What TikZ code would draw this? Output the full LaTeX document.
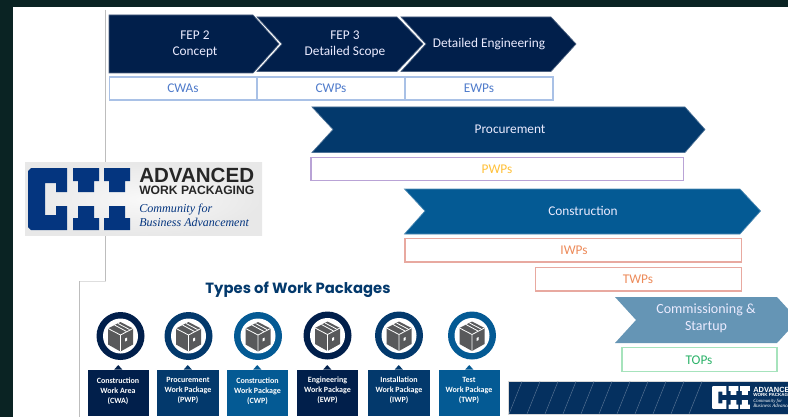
\documentclass[tikz,border=0pt]{standalone}
\usepackage{fontspec}
\setmainfont{Carlito}
\newfontfamily\titlefont{Poppins}
\newfontfamily\logofont{Liberation Sans}
\newfontfamily\handfont{Liberation Serif}
\definecolor{pagedark}{HTML}{0A2323}
\definecolor{navy}{HTML}{011F4B}
\definecolor{midblue}{HTML}{03396C}
\definecolor{seablue}{HTML}{045A94}
\definecolor{paleblue}{HTML}{6595B5}
\definecolor{footblue}{HTML}{05305F}
\definecolor{ciiblue}{HTML}{04357F}
\definecolor{guide}{HTML}{BDBDBD}
\definecolor{cubegray}{HTML}{58595B}
\definecolor{slotblue}{HTML}{A9C1E6}
\definecolor{textblue}{HTML}{4F7BCB}
\definecolor{slotpurple}{HTML}{B9A3D6}
\definecolor{textyellow}{HTML}{FFC13A}
\definecolor{slotred}{HTML}{E8A9A0}
\definecolor{textorange}{HTML}{ED8B5A}
\definecolor{slotgreen}{HTML}{A6E3BC}
\definecolor{textgreen}{HTML}{2DB36A}
\tikzset{
  x=0.75pt,y=-0.75pt,
  band/.style={line width=0.5pt,draw=#1!70!white,fill=#1},
  bandtext/.style={text=white!92!blue,font=\fontsize{10}{12}\selectfont,align=center,inner sep=0pt},
  slot/.style={line width=0.85pt,draw=#1,fill=white},
  slottext/.style={font=\fontsize{10}{12}\selectfont,inner sep=0pt},
  pkgtext/.style={text=white,font=\bfseries\fontsize{6}{7.5}\selectfont,align=center,inner sep=0pt},
  pics/pkgicon/.style={code={
    \fill[#1] (0,0) circle (24);
    \fill[white] (0,0) circle (17.5);
    \fill[cubegray] (0,-14)--(12.5,-7.5)--(12.5,8.5)--(0,15.5)--(-12.5,8.5)--(-12.5,-7.5)--cycle;
    \draw[white,line width=0.6pt] (-12.5,-7.5)--(0,-1)--(12.5,-7.5) (0,-1)--(0,15.5);
    \draw[white,line width=0.6pt] (-6,-11)--(6,-4.5) (-2.5,-12.5)--(9,-6.5);
    \fill[white] (4.5,2.5)--(6.5,1.5)--(6.5,4.5)--(4.5,5.5)--cycle;
  }},
  pics/ciimark/.style={code={
    \fill[#1] (3,0)--(39,0)--(39,24)--(28,24)--(28,15)--(17,15)--(17,47)--(28,47)--(28,38)--(39,38)--(39,62)--(3,62)--(0,59)--(0,3)--cycle;
    \foreach \ix in {45,76}{
      \fill[#1] (\ix,0)--++(26,0)--++(0,13)--++(-5,0)--++(0,11)--++(-16,0)--++(0,-11)--++(-5,0)--cycle;
      \fill[#1] (\ix,62)--++(26,0)--++(0,-12)--++(-5,0)--++(0,-12)--++(-16,0)--++(0,12)--++(-5,0)--cycle;
    }
  }},
}
\begin{document}
\begin{tikzpicture}
\useasboundingbox (0,0) rectangle (788,417);
% page
\fill[pagedark] (0,0) rectangle (788,417);
\fill[white] (13,7) rectangle (788,417);
% guide lines
\draw[guide,line width=0.75pt] (105.5,10)--(105.5,281);
\draw[guide!50!white,line width=0.5pt] (105.5,281)--(79.5,281);
\draw[guide,line width=0.75pt] (79.5,281)--(79.5,417);
% logo
\shade[inner color=white!95!gray,outer color=white!82!gray] (25,163) rectangle (262,235);
\pic at (28,168) {ciimark=ciiblue};
\node[anchor=west,inner sep=0pt,font=\logofont\bfseries\fontsize{15.4}{16}\selectfont,text=black!85] (logoa) at (139,175) {ADVANCED};
\node[anchor=west,inner sep=0pt,font=\logofont\bfseries\fontsize{9.1}{10}\selectfont,text=black!85] (logob) at (139,190.5) {WORK PACKAGING};
\node[anchor=west,inner sep=0pt,font=\handfont\itshape\fontsize{9.1}{9}\selectfont,text=ciiblue] (logoc) at (139,209.5) {Community for};
\node[anchor=west,inner sep=0pt,font=\handfont\itshape\fontsize{9}{9}\selectfont,text=ciiblue] (logod) at (139,222.5) {Business Advancement};
% front end chevrons
\path[band=navy] (109,15)--(253,15)--(279,44)--(253,73)--(109,73)--cycle;
\path[band=navy] (257,17)--(397,17)--(423,44)--(397,71.5)--(257,71.5)--(282,44)--cycle;
\path[band=navy] (401,17)--(551,17)--(576,44)--(551,71.5)--(401,71.5)--(426,44)--cycle;
\node[bandtext] (fep2) at (195,44) {FEP 2\\Concept};
\node[bandtext] (fep3) at (345,44) {FEP 3\\Detailed Scope};
\node[bandtext] (deteng) at (489,44) {Detailed Engineering};
% front end slots
\draw[slot=slotblue] (109.5,77) rectangle (257,100);
\draw[slot=slotblue] (257,77) rectangle (405,100);
\draw[slot=slotblue] (405,77) rectangle (553,100);
\node[slottext,text=textblue] (cwas) at (183,88.5) {CWAs};
\node[slottext,text=textblue] (cwps) at (331,88.5) {CWPs};
\node[slottext,text=textblue] (ewps) at (479,88.5) {EWPs};
% procurement
\path[band=midblue] (312,107)--(685,107)--(705,129.5)--(685,152.5)--(312,152.5)--(333,129.5)--cycle;
\node[bandtext] (proc) at (510,129) {Procurement};
\draw[slot=slotpurple] (311,157.5) rectangle (683.5,180.5);
\node[slottext,text=textyellow] (pwps) at (497,169.5) {PWPs};
% construction
\path[band=seablue] (404.5,189)--(740,189)--(760.5,211)--(740,234)--(404.5,234)--(425,211)--cycle;
\node[bandtext] (cons) at (583,211) {Construction};
\draw[slot=slotred] (405,238.5) rectangle (741.5,262);
\node[slottext,text=textorange] (iwps) at (574,250) {IWPs};
\draw[slot=slotred] (535.5,267.5) rectangle (741.5,291);
\node[slottext,text=textorange] (twps) at (638,279) {TWPs};
% commissioning
\path[fill=paleblue] (615,297)--(777,297)--(788,309)--(788,331)--(777,343)--(615,343)--(636,320)--cycle;
\node[bandtext,font=\fontsize{10.5}{12.75}\selectfont] (comm) at (706,318) {Commissioning \&\\Startup};
\draw[slot=slotgreen] (622,347.5) rectangle (777,371.5);
\node[slottext,text=textgreen] (tops) at (699,360) {TOPs};
% types of work packages
\node[inner sep=0pt,font=\titlefont\bfseries\fontsize{11.1}{12}\selectfont,text=midblue] (title) at (298,290) {Types of Work Packages};
\pic at (120.5,336) {pkgicon=navy};
\pic at (188.5,336) {pkgicon=midblue};
\pic at (258,336) {pkgicon=seablue};
\pic at (327.5,335.5) {pkgicon=navy};
\pic at (399,335.5) {pkgicon=midblue};
\pic at (472,335.5) {pkgicon=seablue};
\foreach \xa/\xb/\col in {87.5/149/navy,157/218.5/midblue,226.5/288/seablue,296.5/358/navy,368/429.5/midblue,438.5/500/seablue}{
  \pgfmathsetmacro{\xc}{(\xa+\xb)/2}
  \fill[\col] (\xa,369.5) rectangle (\xb,415.5);
  \fill[\col] (\xc-4,369.5)--(\xc,365)--(\xc+4,369.5)--cycle;
}
\node[pkgtext] (cwa) at (118,391) {Construction\\Work Area\\(CWA)};
\node[pkgtext] (pwp) at (188,390.5) {Procurement\\Work Package\\(PWP)};
\node[pkgtext] (cwp) at (257.5,391) {Construction\\Work Package\\(CWP)};
\node[pkgtext] (ewp) at (327.5,390.5) {Engineering\\Work Package\\(EWP)};
\node[pkgtext] (iwp) at (399,390.5) {Installation\\Work Package\\(IWP)};
\node[pkgtext] (twp) at (469,390.5) {Test\\Work Package\\(TWP)};
% footer banner
\begin{scope}
\clip (508,381) rectangle (788,417);
\fill[guide!60!white] (508,381) rectangle (788,415);
\fill[footblue] (508.5,381.5) rectangle (788,414);
\foreach \sx in {509,527,...,700}{
  \draw[white!30!footblue,line width=0.4pt] (\sx,414)--(\sx+13,381.5);
}
\pic[scale=0.37] at (712,386) {ciimark=white};
\node[anchor=west,inner sep=0pt,font=\logofont\bfseries\fontsize{5.6}{6}\selectfont,text=white] (fa) at (753,389.5) {ADVANCED};
\node[anchor=west,inner sep=0pt,font=\logofont\bfseries\fontsize{3.4}{4}\selectfont,text=white] (fb) at (753,394.5) {WORK PACKAGING};
\node[anchor=west,inner sep=0pt,font=\handfont\itshape\fontsize{3.6}{4}\selectfont,text=white] (fc) at (753,401.5) {Community for};
\node[anchor=west,inner sep=0pt,font=\handfont\itshape\fontsize{3.8}{4}\selectfont,text=white] (fd) at (753,406) {Business Advancement};
\end{scope}
\end{tikzpicture}
\end{document}
